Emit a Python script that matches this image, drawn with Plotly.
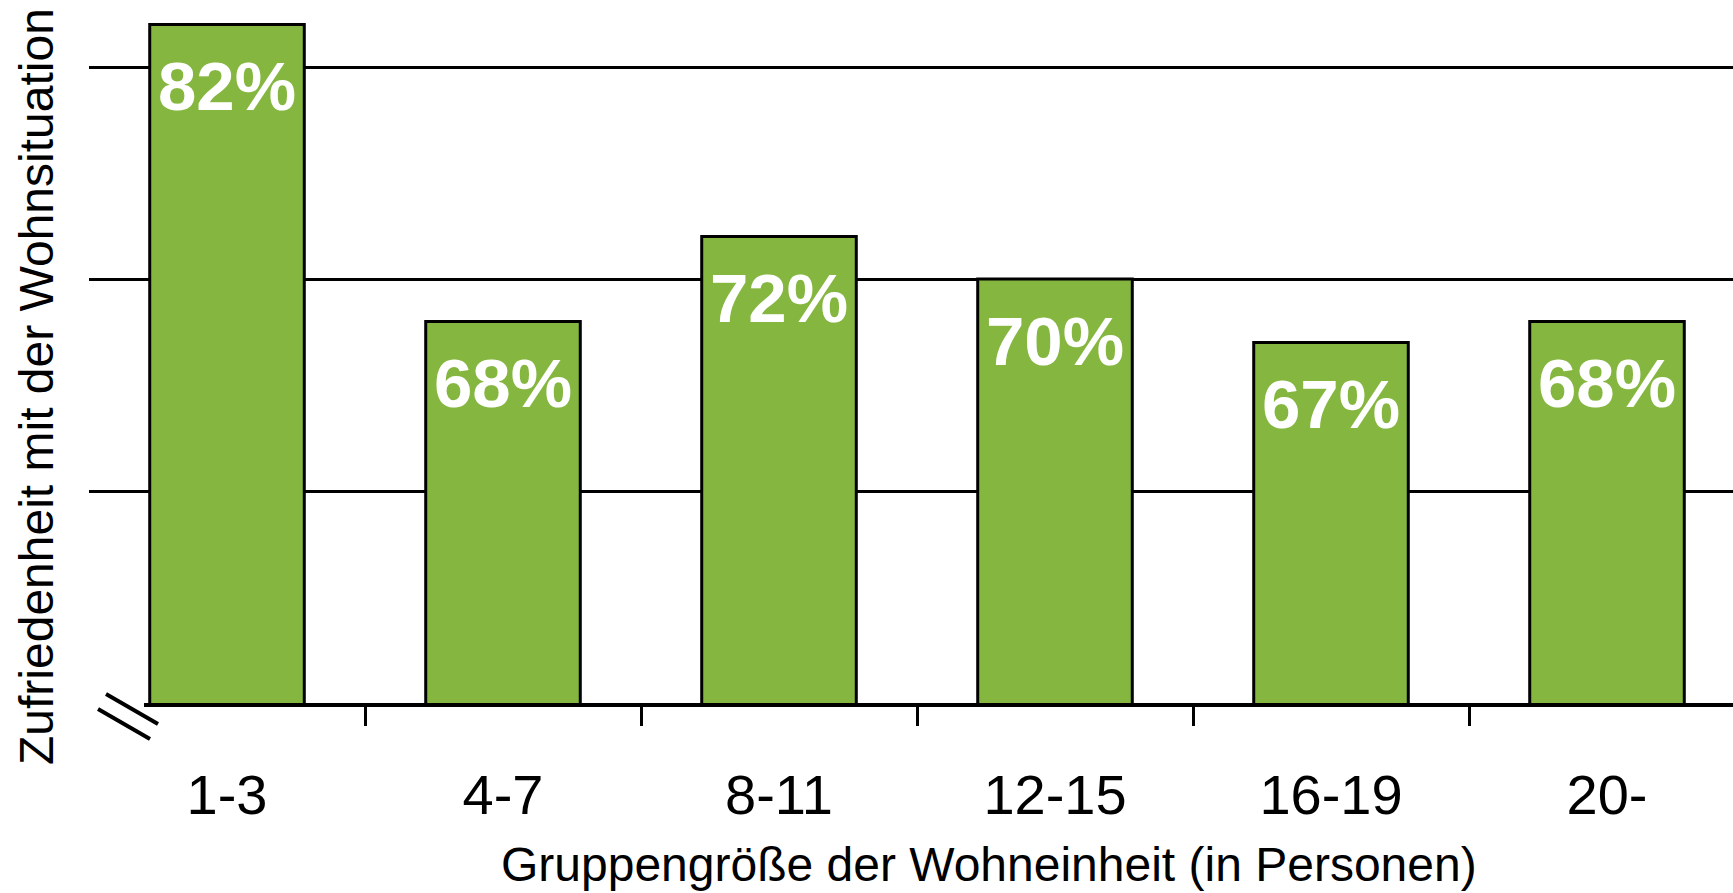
import plotly.graph_objects as go

categories = ["1-3", "4-7", "8-11", "12-15", "16-19", "20-"]
values = [82, 68, 72, 70, 67, 68]
labels = ["82%", "68%", "72%", "70%", "67%", "68%"]
boundaries = [0.5, 1.5, 2.5, 3.5, 4.5]

W, H = 1733, 893
L, B = 89, 190
PW = W - L
PH = H - B
per_cat = 276.0
x_right = -0.5 + PW / per_cat
y_min, y_max = 50, 50 + PH / 21.2

GREEN = "#85B740"

fig = go.Figure()
fig.add_trace(go.Bar(
    x=list(range(len(categories))), y=values,
    width=0.56,
    marker=dict(color=GREEN, line=dict(color="black", width=3)),
    hoverinfo="skip", showlegend=False,
))
# invisible trace to activate second x axis (ticks + axis line)
fig.add_trace(go.Scatter(x=[boundaries[0]], y=[y_min], xaxis="x2", yaxis="y2", mode="markers",
                         marker=dict(opacity=0), showlegend=False, hoverinfo="skip"))

for i, (v, t) in enumerate(zip(values, labels)):
    fig.add_annotation(x=i, y=v, text="<b>" + t + "</b>", showarrow=False, yanchor="middle",
                       yshift=-62, font=dict(family="Liberation Sans, Arial", size=69, color="white"),
                       xref="x", yref="y")

axis_start_frac = (144 - L) / PW
fig.update_layout(
    width=W, height=H,
    margin=dict(l=L, r=0, t=0, b=B, autoexpand=False),
    plot_bgcolor="rgba(0,0,0,0)", paper_bgcolor="white",
    font=dict(family="Liberation Sans, Arial", color="black"),
    xaxis=dict(
        range=[-0.5, x_right], domain=[0, 1],
        tickmode="array", tickvals=list(range(len(categories))), ticktext=categories,
        ticks="", showline=False, showgrid=False, zeroline=False,
        tickfont=dict(size=56), ticklabelstandoff=54, automargin=False,
    ),
    xaxis2=dict(
        anchor="y2", side="bottom",
        domain=[axis_start_frac, 1],
        range=[-0.5 + (144 - L) / per_cat, x_right],
        tickmode="array", tickvals=boundaries, ticks="outside", ticklen=19, tickwidth=3,
        tickcolor="black", showticklabels=False, automargin=False,
        showline=True, linecolor="black", linewidth=4, showgrid=False, zeroline=False,
    ),
    yaxis=dict(
        range=[y_min, y_max], tickmode="array", tickvals=[60, 70, 80],
        showticklabels=False, ticks="", showgrid=True, gridcolor="black", gridwidth=3,
        showline=False, zeroline=False,
    ),
    yaxis2=dict(
        anchor="x2", domain=[0, 1], range=[y_min, y_max],
        showticklabels=False, ticks="", showgrid=False, showline=False, zeroline=False,
    ),
)

fig.add_annotation(text="Zufriedenheit mit der Wohnsituation", textangle=-90,
                   xref="paper", yref="paper", x=(36 - L) / PW, y=(PH - 387) / PH,
                   xanchor="center", yanchor="middle", showarrow=False,
                   font=dict(size=48, color="black"))
fig.add_annotation(text="Gruppengröße der Wohneinheit (in Personen)",
                   xref="paper", yref="paper", x=(989 - L) / PW, y=(PH - 864) / PH,
                   xanchor="center", yanchor="middle", showarrow=False,
                   font=dict(size=48, color="black"))

# axis break marks
for (x0, y0, x1, y1) in [(106, 694, 158, 724), (98, 709, 150, 739)]:
    fig.add_shape(type="line", xref="paper", yref="paper",
                  x0=(x0 - L) / PW, y0=(PH - y0) / PH, x1=(x1 - L) / PW, y1=(PH - y1) / PH,
                  line=dict(color="black", width=4))

fig.write_html("out.html", config={"displayModeBar": False})

# remove default page margins so the figure fills the window exactly
with open("out.html", "r", encoding="utf-8") as f:
    html = f.read()
html = html.replace("<head>", "<head><style>html,body{margin:0;padding:0;overflow:hidden;}</style>", 1)
with open("out.html", "w", encoding="utf-8") as f:
    f.write(html)
